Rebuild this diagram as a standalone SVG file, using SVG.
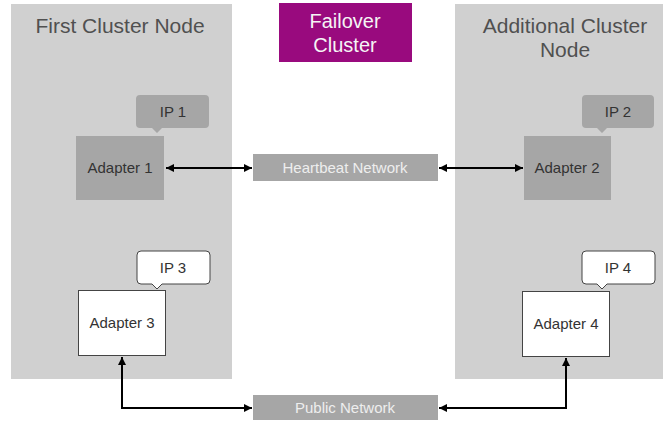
<svg xmlns="http://www.w3.org/2000/svg" width="665" height="421" viewBox="0 0 665 421">
<defs>
<style>
.panel{fill:#d0d0d0}
.title{font-family:"Liberation Sans",Arial,sans-serif;font-size:21px;fill:#505050;text-anchor:middle}
.gbox{fill:#a6a6a6}
.wbox{fill:#ffffff;stroke:#444;stroke-width:1}
.lbl{font-family:"Liberation Sans",Arial,sans-serif;font-size:15px;fill:#333;text-anchor:middle}
.wlbl{font-family:"Liberation Sans",Arial,sans-serif;font-size:20px;fill:#f5f5f5;text-anchor:middle}
.nlbl{font-family:"Liberation Sans",Arial,sans-serif;font-size:15px;fill:#eeeeee;text-anchor:middle}
.conn{fill:none;stroke:#000;stroke-width:2}
</style>
<marker id="ah" viewBox="0 0 10 10" refX="10" refY="5" markerWidth="4.5" markerHeight="4" orient="auto-start-reverse" markerUnits="strokeWidth">
<path d="M0,0 L10,5 L0,10 z" fill="#000"/>
</marker>
</defs>
<rect width="665" height="421" fill="#ffffff"/>

<g id="first-cluster-node">
<rect class="panel" x="11" y="4" width="221" height="375"/>
<text class="title" x="120" y="33">First Cluster Node</text>
</g>

<g id="additional-cluster-node">
<rect class="panel" x="455" y="4" width="208" height="375"/>
<text class="title" x="565" y="33">Additional Cluster</text>
<text class="title" x="565" y="57">Node</text>
</g>

<g id="failover-cluster">
<rect x="279" y="3" width="133" height="59" fill="#990a7e"/>
<text class="wlbl" x="345" y="28">Failover</text>
<text class="wlbl" x="345" y="52">Cluster</text>
</g>

<g id="ip1">
<path class="gbox" d="M140,95 H205 Q209,95 209,99 V124 Q209,128 205,128 H162 L157,133 L152,128 H140 Q136,128 136,124 V99 Q136,95 140,95 z"/>
<text class="lbl" x="173" y="117">IP 1</text>
</g>

<g id="adapter1">
<rect class="gbox" x="76" y="136" width="88" height="64"/>
<text class="lbl" x="120" y="173">Adapter 1</text>
</g>

<g id="ip2">
<path class="gbox" d="M586,95 H650 Q654,95 654,99 V124 Q654,128 650,128 H607 L602,133 L597,128 H586 Q582,128 582,124 V99 Q582,95 586,95 z"/>
<text class="lbl" x="618" y="117">IP 2</text>
</g>

<g id="adapter2">
<rect class="gbox" x="524" y="136" width="87" height="64"/>
<text class="lbl" x="567" y="173">Adapter 2</text>
</g>

<g id="ip3">
<path class="wbox" d="M141,251 H206 Q210,251 210,255 V280 Q210,284 206,284 H162 L157,289 L152,284 H141 Q137,284 137,280 V255 Q137,251 141,251 z"/>
<text class="lbl" x="173" y="273">IP 3</text>
</g>

<g id="adapter3">
<rect class="wbox" x="78.5" y="290.5" width="87" height="65"/>
<text class="lbl" x="122" y="328">Adapter 3</text>
</g>

<g id="ip4">
<path class="wbox" d="M586,251 H651 Q655,251 655,255 V280 Q655,284 651,284 H607 L602,289 L597,284 H586 Q582,284 582,280 V255 Q582,251 586,251 z"/>
<text class="lbl" x="618" y="273">IP 4</text>
</g>

<g id="adapter4">
<rect class="wbox" x="522.5" y="291.5" width="87" height="65"/>
<text class="lbl" x="566" y="329">Adapter 4</text>
</g>

<g id="heartbeat-network">
<rect class="gbox" x="253" y="154" width="185" height="27"/>
<text class="nlbl" x="345" y="172.5">Heartbeat Network</text>
</g>

<g id="public-network">
<rect class="gbox" x="253" y="395" width="185" height="25"/>
<text class="nlbl" x="345" y="412.5">Public Network</text>
</g>

<g id="connectors">
<path class="conn" d="M166,168 H252" marker-start="url(#ah)" marker-end="url(#ah)"/>
<path class="conn" d="M439,168 H523" marker-start="url(#ah)" marker-end="url(#ah)"/>
<path class="conn" d="M122,357 V408 H252" marker-start="url(#ah)" marker-end="url(#ah)"/>
<path class="conn" d="M439,408 H566 V358" marker-start="url(#ah)" marker-end="url(#ah)"/>
</g>
</svg>
